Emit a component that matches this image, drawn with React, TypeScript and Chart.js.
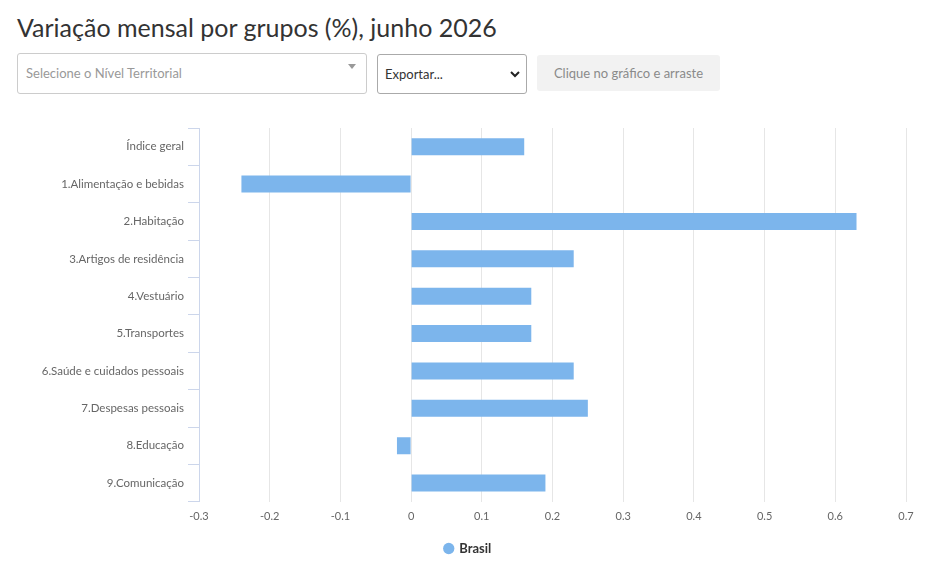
import React, { useEffect, useRef } from "react";
import { Chart, registerables } from "chart.js";

Chart.register(...registerables);

const title = "Variação mensal por grupos (%), junho 2026";
const categories = [
  "Índice geral",
  "1.Alimentação e bebidas",
  "2.Habitação",
  "3.Artigos de residência",
  "4.Vestuário",
  "5.Transportes",
  "6.Saúde e cuidados pessoais",
  "7.Despesas pessoais",
  "8.Educação",
  "9.Comunicação",
];
const seriesName = "Brasil";
const values = [0.16, -0.24, 0.63, 0.23, 0.17, 0.17, 0.23, 0.25, -0.02, 0.19];
const xMin = -0.3;
const xMax = 0.7;
const xStep = 0.1;

const FONT = "Lato, 'Open Sans', sans-serif";

export default function App() {
  const ref = useRef<HTMLCanvasElement>(null);

  useEffect(() => {
    if (!ref.current) return;
    const chart = new Chart(ref.current, {
      type: "bar",
      data: {
        labels: categories,
        datasets: [
          {
            label: seriesName,
            data: values,
            backgroundColor: "#7cb5ec",
            borderWidth: 0,
            barPercentage: 0.455,
            categoryPercentage: 1,
          },
        ],
      },
      options: {
        indexAxis: "y",
        animation: false,
        responsive: false,
        maintainAspectRatio: false,
        layout: { padding: { left: 30, right: 30, top: 18, bottom: 2 } },
        font: { family: FONT },
        scales: {
          x: {
            min: xMin,
            max: xMax,
            ticks: {
              stepSize: xStep,
              color: "#666666",
              font: { family: FONT, size: 11 },
              padding: 8,
            },
            grid: { color: "#e6e6e6", drawTicks: false },
            border: { display: false },
          },
          y: {
            grid: {
              offset: true,
              drawOnChartArea: false,
              drawTicks: true,
              tickLength: 11,
              color: "#ccd6eb",
            },
            border: { display: true, color: "#ccd6eb" },
            ticks: {
              color: "#666666",
              font: { family: FONT, size: 11.5 },
              padding: 4,
            },
            afterFit: (s: any) => {
              s.width = 169;
            },
          },
        },
        plugins: {
          legend: {
            position: "bottom",
            labels: {
              usePointStyle: true,
              pointStyle: "circle",
              boxWidth: 8,
              boxHeight: 8,
              padding: 11,
              color: "#333333",
              font: { family: FONT, size: 13, weight: "bold" },
            },
          },
          tooltip: { enabled: false },
        },
      },
    } as any);
    return () => chart.destroy();
  }, []);

  return (
    <div
      style={{
        position: "absolute",
        left: 0,
        top: 0,
        width: 936,
        height: 567,
        background: "#ffffff",
        fontFamily: FONT,
        overflow: "hidden",
      }}
    >
      <div
        style={{
          position: "absolute",
          left: 17,
          top: 11,
          fontSize: 25,
          color: "#333333",
          whiteSpace: "nowrap",
          lineHeight: "32px",
        }}
      >
        {title}
      </div>
      <div
        style={{
          position: "absolute",
          left: 17,
          top: 53,
          width: 348,
          height: 39,
          border: "1px solid #cccccc",
          borderRadius: 3,
          boxSizing: "content-box",
        }}
      >
        <span
          style={{
            position: "absolute",
            left: 8,
            top: 11,
            fontSize: 13,
            color: "#999999",
          }}
        >
          Selecione o Nível Territorial
        </span>
        <span
          style={{
            position: "absolute",
            right: 10,
            top: 10,
            width: 0,
            height: 0,
            borderLeft: "4px solid transparent",
            borderRight: "4px solid transparent",
            borderTop: "5px solid #999999",
          }}
        />
      </div>
      <div
        style={{
          position: "absolute",
          left: 377,
          top: 54,
          width: 148,
          height: 38,
          border: "1px solid #aaaaaa",
          borderRadius: 3,
        }}
      >
        <span
          style={{
            position: "absolute",
            left: 7,
            top: 11,
            fontSize: 13,
            color: "#333333",
          }}
        >
          Exportar...
        </span>
        <svg
          style={{ position: "absolute", right: 6, top: 15 }}
          width="10"
          height="8"
          viewBox="0 0 10 8"
        >
          <path d="M1 2 L5 6 L9 2" stroke="#222" strokeWidth="2" fill="none" />
        </svg>
      </div>
      <div
        style={{
          position: "absolute",
          left: 537,
          top: 55,
          width: 183,
          height: 36,
          background: "#f2f2f2",
          borderRadius: 3,
          color: "#8a8a8a",
          fontSize: 13,
          lineHeight: "36px",
          textAlign: "center",
        }}
      >
        Clique no gráfico e arraste
      </div>
      <canvas
        ref={ref}
        width={936}
        height={457}
        style={{ position: "absolute", left: 0, top: 110, width: 936, height: 457 }}
      />
    </div>
  );
}
